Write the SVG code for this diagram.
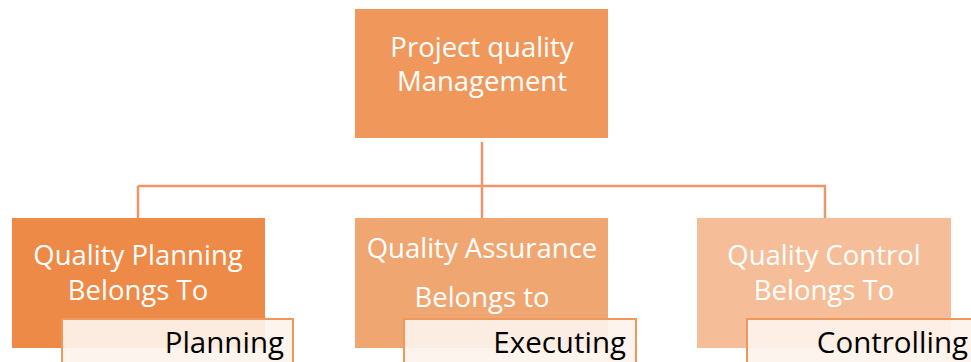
<svg xmlns="http://www.w3.org/2000/svg" width="971" height="362" viewBox="0 0 971 362">
<style>
.t{font-family:"Open Sans","Noto Sans",sans-serif;fill:#fff;font-size:27.5px;text-anchor:middle}
.s{font-family:"Open Sans","Noto Sans",sans-serif;fill:#000;font-size:29.5px;text-anchor:end}
.w{fill:#fdf3ed;fill-opacity:0.92;stroke:#f0975b;stroke-width:2}
.c{stroke:#f0956a;stroke-width:2.5;fill:none}
</style>
<rect width="971" height="362" fill="#fff"/>
<g id="connectors">
<path class="c" d="M482 142V186M138 186H826M138 186V218M482 186V218M825 186V218"/>
</g>
<g id="top">
<rect x="355" y="9" width="253" height="129" fill="#f0985c"/>
<text class="t" x="482" y="57">Project quality</text>
<text class="t" x="482" y="91">Management</text>
</g>
<g id="planning">
<rect x="12" y="218" width="253" height="130" fill="#ee8a47"/>
<text class="t" x="138" y="265">Quality Planning</text>
<text class="t" x="138" y="300">Belongs To</text>
<rect class="w" x="62" y="319" width="231" height="50"/>
<text class="s" x="284" y="353">Planning</text>
</g>
<g id="assurance">
<rect x="355" y="218" width="253" height="130" fill="#f0a671"/>
<text class="t" x="482" y="258">Quality Assurance</text>
<text class="t" x="482" y="307">Belongs to</text>
<rect class="w" x="404" y="319" width="232" height="50"/>
<text class="s" x="626" y="353">Executing</text>
</g>
<g id="control">
<rect x="697" y="218" width="254" height="130" fill="#f5be98"/>
<text class="t" x="824" y="265">Quality Control</text>
<text class="t" x="824" y="300">Belongs To</text>
<rect class="w" x="747" y="319" width="240" height="50"/>
<text class="s" x="968" y="353">Controlling</text>
</g>
</svg>
